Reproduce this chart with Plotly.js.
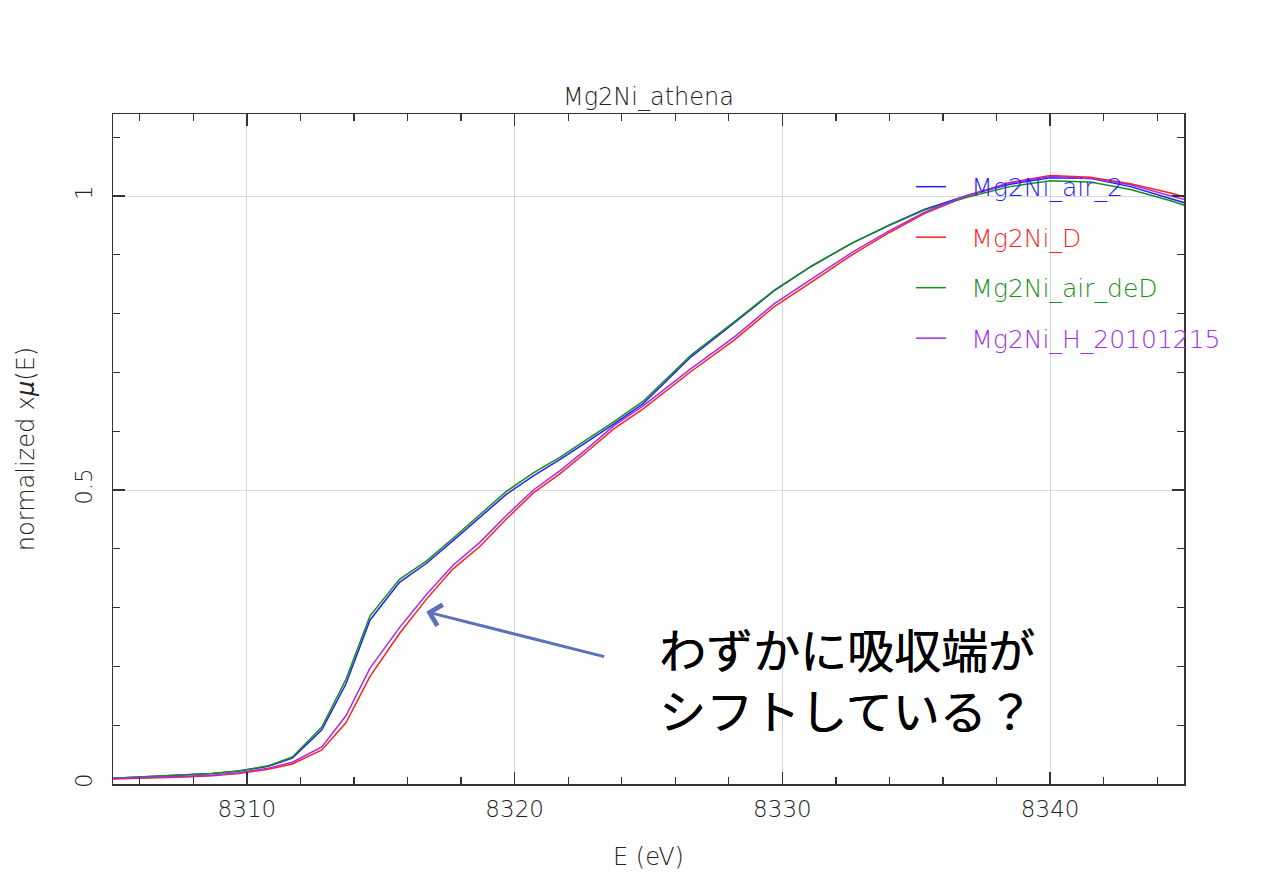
<!DOCTYPE html>
<html>
<head>
<meta charset="utf-8">
<script src="https://cdn.plot.ly/plotly-3.0.1.min.js"></script>
<style>html,body{margin:0;padding:0;background:#fff;}#chart{width:1280px;height:889px;}</style>
</head>
<body>
<div id="chart"></div>
<script>
// Energy grid (eV)
const energy = [8304.7, 8305.7, 8306.7, 8307.7, 8308.7, 8309.7, 8310.8, 8311.7, 8312.8, 8313.7,
  8314.6, 8315.7, 8316.7, 8317.7, 8318.7, 8319.7, 8320.7, 8321.7, 8322.7, 8323.7,
  8324.8, 8326.6, 8328.2, 8329.7, 8331.1, 8332.6, 8334.0, 8335.3, 8336.9, 8338.5,
  8340.0, 8341.5, 8343.0, 8344.5, 8345.5];

const airTwo = [0.009, 0.011, 0.013, 0.015, 0.018, 0.022, 0.030, 0.044, 0.092, 0.170,
  0.279, 0.343, 0.375, 0.414, 0.454, 0.493, 0.524, 0.552, 0.582, 0.612,
  0.647, 0.727, 0.784, 0.839, 0.881, 0.920, 0.951, 0.977, 1.001, 1.020,
  1.031, 1.030, 1.016, 0.996, 0.982];

const niD = [0.008, 0.009, 0.011, 0.012, 0.014, 0.018, 0.025, 0.034, 0.058, 0.104,
  0.183, 0.256, 0.314, 0.366, 0.404, 0.451, 0.495, 0.528, 0.565, 0.604,
  0.638, 0.702, 0.755, 0.812, 0.854, 0.900, 0.938, 0.970, 1.000, 1.023,
  1.035, 1.032, 1.021, 1.005, 0.992];

const airDeD = [0.009, 0.011, 0.013, 0.015, 0.018, 0.022, 0.031, 0.046, 0.097, 0.178,
  0.286, 0.348, 0.379, 0.418, 0.458, 0.498, 0.529, 0.556, 0.586, 0.616,
  0.651, 0.730, 0.786, 0.840, 0.881, 0.920, 0.950, 0.976, 0.998, 1.016,
  1.026, 1.024, 1.011, 0.992, 0.977];

const hSample = [0.009, 0.010, 0.012, 0.013, 0.015, 0.019, 0.027, 0.037, 0.063, 0.116,
  0.197, 0.266, 0.322, 0.372, 0.411, 0.457, 0.500, 0.533, 0.570, 0.609,
  0.643, 0.707, 0.760, 0.817, 0.859, 0.904, 0.941, 0.972, 1.001, 1.022,
  1.033, 1.030, 1.019, 1.001, 0.988];

const seriesNames = ['Mg2Ni_air_2', 'Mg2Ni_D', 'Mg2Ni_air_deD', 'Mg2Ni_H_20101215'];
const seriesColors = ['#1f1fff', '#ff1f1f', '#178f17', '#a22ee6'];
const seriesValues = [airTwo, niD, airDeD, hSample];

const titleText = 'Mg2Ni_athena';
const xTitle = 'E (eV)';
const yTitle = 'normalized x<i>μ</i>(E)';
const noteText = 'わずかに吸収端が<br>シフトしている？';
const arrowTip = [8316.7, 0.293];
const arrowTail = [8323.4, 0.216];

const baseFont = '"DejaVu Sans", sans-serif';
const pad = '\u2002\u00a0';

const traces = seriesNames.map((n, i) => ({
  type: 'scatter', mode: 'lines',
  x: energy, y: seriesValues[i],
  name: pad + '<span style="color:' + seriesColors[i] + '">' + n + '</span>',
  legendgroup: 'g' + i,
  line: {color: seriesColors[i], width: 1.5}
}));

const axisCommon = {
  showline: true, linecolor: '#333', linewidth: 1.5, mirror: 'ticks',
  ticks: 'inside', ticklen: 12, tickwidth: 1.3, tickcolor: '#333',
  showgrid: true, gridcolor: '#d6d6d6', gridwidth: 1, zeroline: false,
  tickfont: {family: baseFont, size: 23, color: '#222', weight: 200}
};

const layout = {
  width: 1280, height: 889,
  paper_bgcolor: '#fff', plot_bgcolor: '#fff',
  margin: {l: 113, r: 96, t: 114, b: 105},
  font: {family: baseFont, color: '#222', weight: 200},
  title: {text: titleText, x: 0.5066, xanchor: 'center', y: 1 - 97/889, yanchor: 'middle',
          font: {family: baseFont, size: 24, color: '#222', weight: 200}},
  xaxis: Object.assign({}, axisCommon, {
    range: [8305, 8345], tick0: 8310, dtick: 10,
    minor: {tick0: 8310, dtick: 2, ticks: 'inside', ticklen: 7, tickwidth: 1.3, tickcolor: '#333', showgrid: false},
    ticklabelstandoff: 4,
    title: {text: xTitle, standoff: 27, font: {family: baseFont, size: 24, color: '#222', weight: 200}}
  }),
  yaxis: Object.assign({}, axisCommon, {
    range: [0, 1.1395], tick0: 0, dtick: 0.5, tickangle: -90,
    minor: {tick0: 0, dtick: 0.1, ticks: 'inside', ticklen: 7, tickwidth: 1.3, tickcolor: '#333', showgrid: false},
    ticklabelstandoff: 10,
    title: {text: yTitle, standoff: 30, font: {family: baseFont, size: 24, color: '#222', weight: 200}}
  }),
  showlegend: true,
  legend: {
    x: 0.745, xanchor: 'left', y: 0.9255, yanchor: 'top',
    bgcolor: 'rgba(0,0,0,0)', borderwidth: 0,
    font: {family: baseFont, size: 25, weight: 200},
    tracegroupgap: 15, traceorder: 'grouped'
  },
  annotations: [
    {x: arrowTip[0], y: arrowTip[1], xref: 'x', yref: 'y',
     ax: arrowTail[0], ay: arrowTail[1], axref: 'x', ayref: 'y',
     text: '', showarrow: true, arrowhead: 4, arrowsize: 1.4, arrowwidth: 3,
     arrowcolor: '#5b72b8', standoff: 0, startstandoff: 0},
    {x: 0.508, y: 0.158, xref: 'paper', yref: 'paper', xanchor: 'left', yanchor: 'middle',
     align: 'left', showarrow: false, text: noteText,
     font: {family: '"Noto Sans CJK JP", sans-serif', size: 47, color: '#000', weight: 400,
            shadow: '0.4px 0 0 #000'}}
  ]
};

Plotly.newPlot('chart', traces, layout, {displayModeBar: false, staticPlot: true});
</script>
</body>
</html>
